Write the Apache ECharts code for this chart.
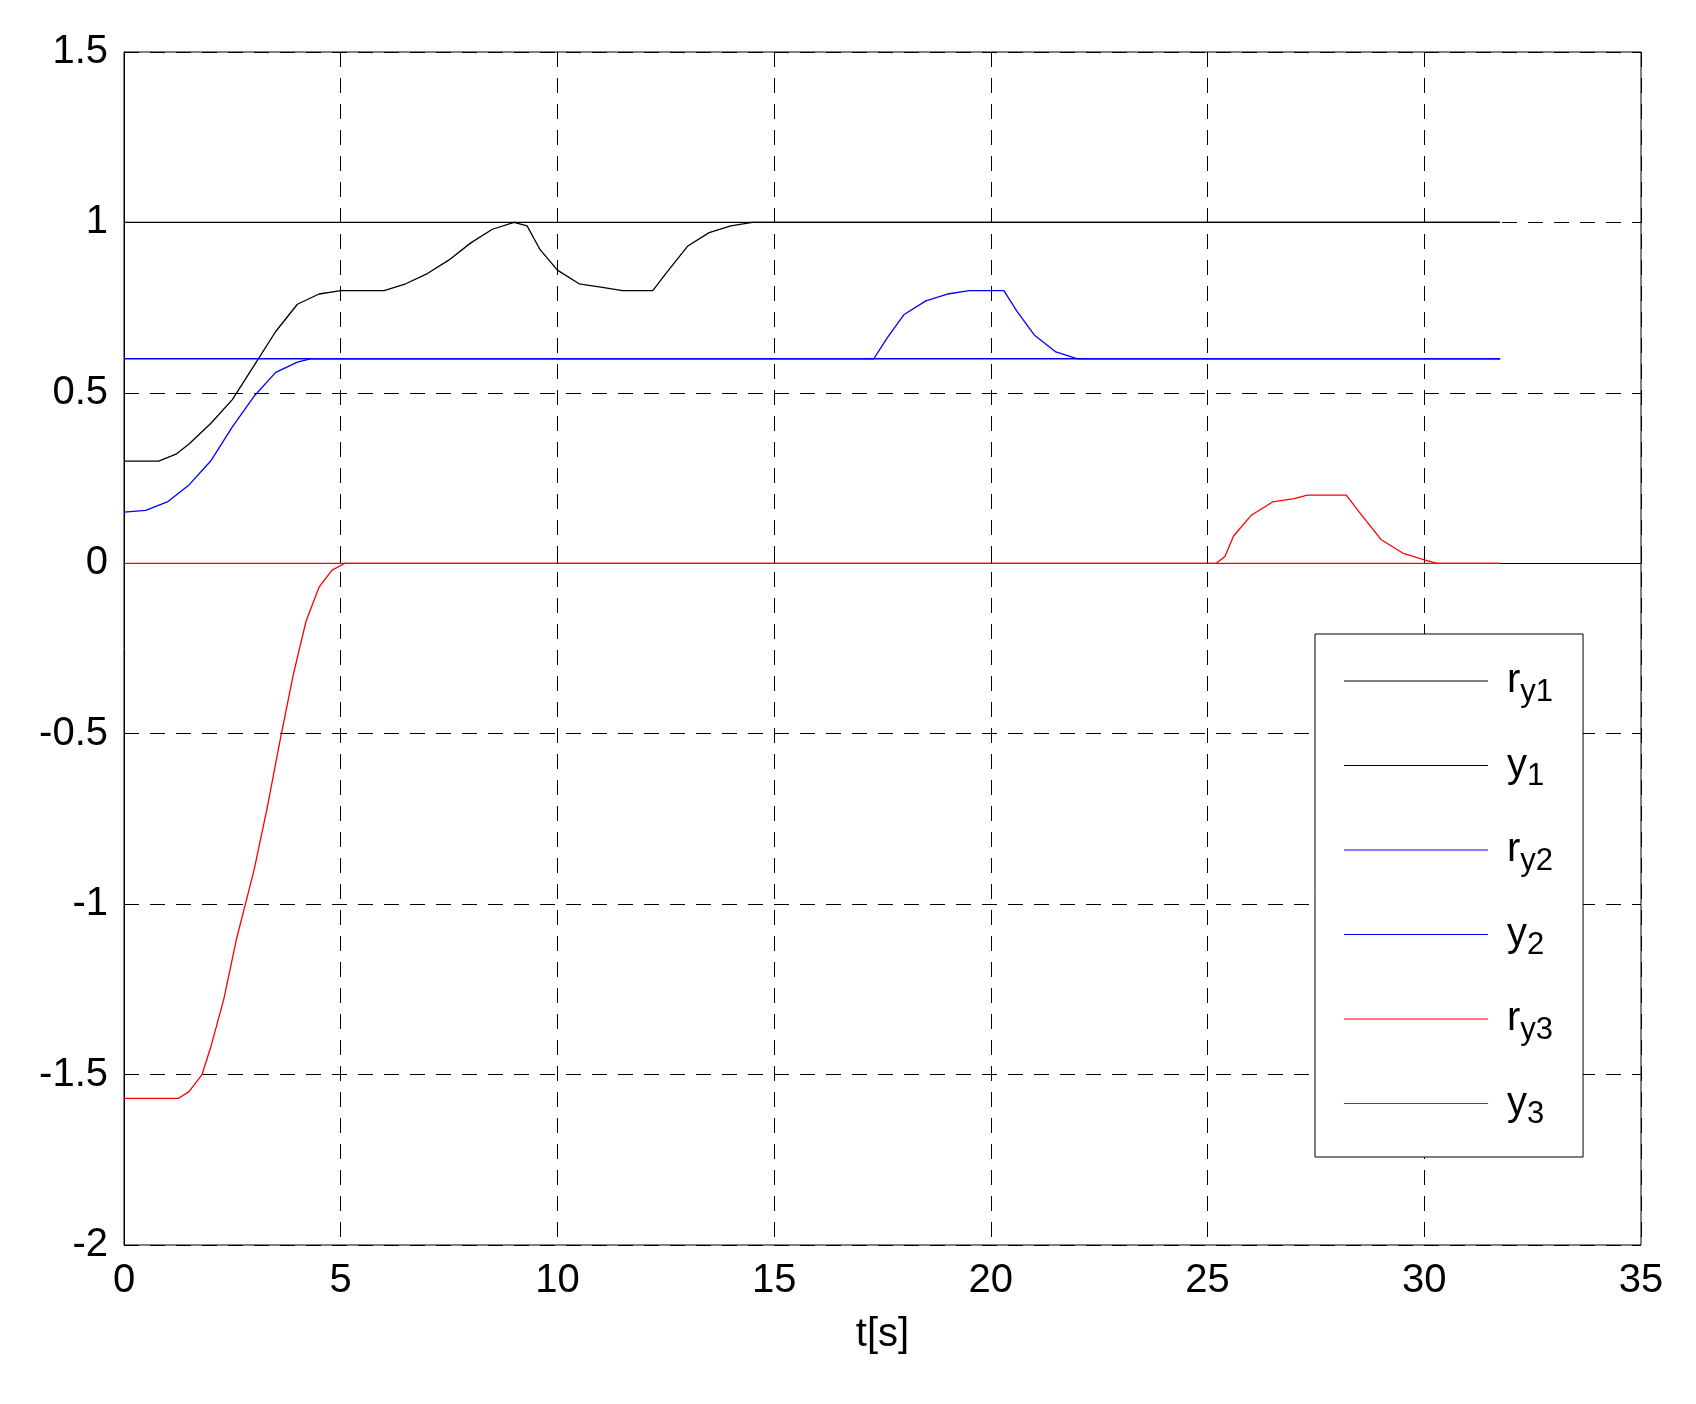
<!DOCTYPE html>
<html>
<head>
<meta charset="utf-8">
<title>y tracking</title>
<style>html,body{margin:0;padding:0;background:#fff}#chart{width:1696px;height:1404px}</style>
</head>
<body>
<div id="chart"></div>
<script src="https://cdn.jsdelivr.net/npm/echarts@6/dist/echarts.min.js"></script>
<script>
var tEnd = 31.75;
var ry1 = [[0, 1], [tEnd, 1]];
var ry2 = [[0, 0.6], [tEnd, 0.6]];
var ry3 = [[0, 0], [tEnd, 0]];
var y1 = [[0,0.3],[0.8,0.3],[1.2,0.32],[1.5,0.35],[2,0.41],[2.5,0.48],[3,0.58],[3.5,0.68],[4,0.76],[4.5,0.79],[5,0.8],[6,0.8],[6.5,0.82],[7,0.85],[7.5,0.89],[8,0.94],[8.5,0.98],[9,1.0],[9.3,0.99],[9.6,0.92],[10,0.86],[10.5,0.82],[11,0.81],[11.5,0.8],[12.2,0.8],[12.5,0.85],[13,0.93],[13.5,0.97],[14,0.99],[14.5,1.0],[tEnd,1.0]];
var y2 = [[0,0.15],[0.5,0.155],[1,0.18],[1.5,0.23],[2,0.3],[2.5,0.4],[3,0.49],[3.5,0.56],[4,0.59],[4.3,0.6],[17.3,0.6],[17.6,0.66],[18,0.73],[18.5,0.77],[19,0.79],[19.5,0.8],[20.3,0.8],[20.6,0.74],[21,0.67],[21.5,0.62],[22,0.6],[tEnd,0.6]];
var y3 = [[0,-1.57],[1.25,-1.57],[1.5,-1.55],[1.8,-1.5],[2,-1.42],[2.3,-1.28],[2.6,-1.1],[3,-0.9],[3.3,-0.72],[3.6,-0.52],[3.9,-0.33],[4.2,-0.17],[4.5,-0.07],[4.8,-0.02],[5.1,0],[25.2,0],[25.4,0.02],[25.6,0.08],[26,0.14],[26.5,0.18],[27,0.19],[27.3,0.2],[28.2,0.2],[28.5,0.15],[29,0.07],[29.5,0.03],[30,0.01],[30.3,0],[tEnd,0]];
var legendLabels = {ry1:['r','y1'], y1:['y','1'], ry2:['r','y2'], y2:['y','2'], ry3:['r','y3'], y3:['y','3']};

var font = 'Liberation Sans, Arial, sans-serif';
var chart = echarts.init(document.getElementById('chart'));
function line(name, data, color) {
    return {name: name, type: 'line', data: data, symbol: 'none', animation: false,
        lineStyle: {color: color, width: 1.3}, itemStyle: {color: color}};
}
var dashed = {show: true, lineStyle: {color: '#000', type: [15, 11], width: 1}};
chart.setOption({
    backgroundColor: '#fff',
    grid: {left: 124, right: 55, top: 52, bottom: 159, show: true, borderColor: '#000', borderWidth: 1},
    xAxis: {type: 'value', min: 0, max: 35, interval: 5, name: 't[s]', nameLocation: 'middle', nameGap: 70,
        nameTextStyle: {fontFamily: font, fontSize: 40, color: '#000'},
        axisLine: {lineStyle: {color: '#000'}}, axisTick: {inside: true, length: 11, lineStyle: {color: '#000'}},
        axisLabel: {fontFamily: font, fontSize: 40, color: '#000', margin: 16}, splitLine: dashed},
    yAxis: {type: 'value', min: -2, max: 1.5, interval: 0.5,
        axisLine: {show: true, lineStyle: {color: '#000'}}, axisTick: {show: true, inside: true, length: 11, lineStyle: {color: '#000'}},
        axisLabel: {fontFamily: font, fontSize: 40, color: '#000', margin: 16}, splitLine: dashed},
    legend: {orient: 'vertical', left: 1315, top: 634, width: 268, padding: [27, 30, 27, 29], itemWidth: 144, itemHeight: 14, itemGap: 38,
        backgroundColor: '#fff', borderColor: '#000', borderWidth: 1, icon: 'path://M0,7L144,7L144,8L0,8Z',
        data: ['ry1', 'y1', 'ry2', 'y2', 'ry3', 'y3'],
        formatter: function (n) { var l = legendLabels[n]; return '{b|' + l[0] + '}{s|' + l[1] + '}'; },
        textStyle: {fontFamily: font, color: '#000', padding: [0, 0, 0, 14], rich: {
            b: {fontFamily: font, fontSize: 40, color: '#000'},
            s: {fontFamily: font, fontSize: 31, color: '#000', verticalAlign: 'bottom', padding: [22, 0, 0, 0]}}}},
    series: [
        line('ry1', ry1, '#000'), line('y1', y1, '#000'),
        line('ry2', ry2, '#0000ff'), line('y2', y2, '#0000ff'),
        line('ry3', ry3, '#ff0000'), line('y3', y3, '#ff0000')
    ]
});
</script>
</body>
</html>
